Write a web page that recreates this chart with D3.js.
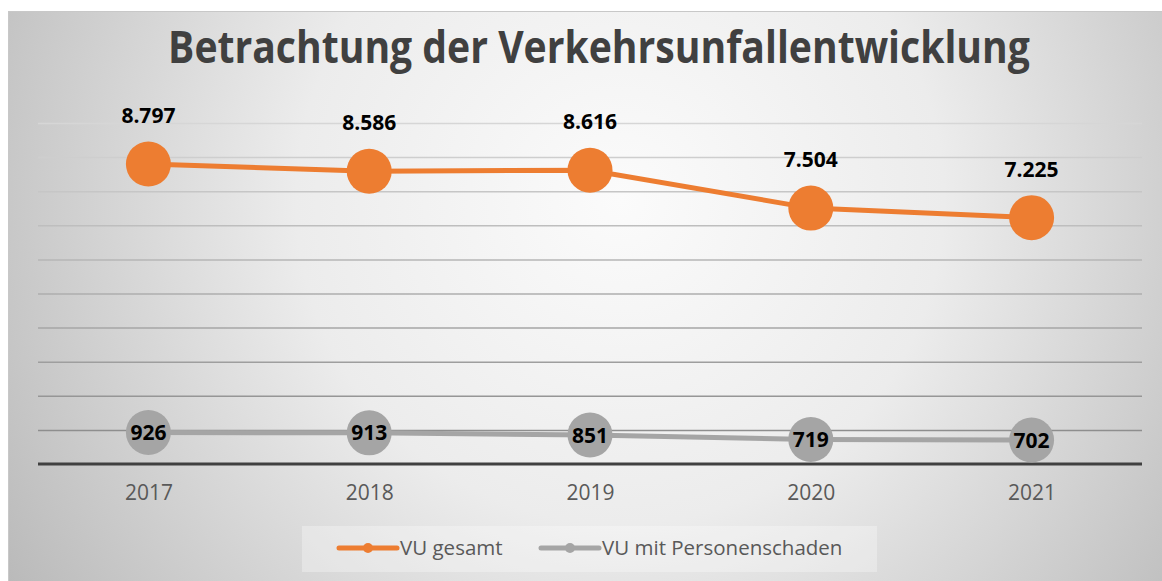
<!DOCTYPE html>
<html>
<head>
<meta charset="utf-8">
<script src="https://cdn.jsdelivr.net/npm/d3@7"></script>
<style>
  body { margin: 0; background: #fff; }
  svg { display: block; font-family: "Open Sans", sans-serif; }
</style>
</head>
<body>
<svg id="chart" width="1162" height="581"></svg>
<script>
// data
var years = ["2017", "2018", "2019", "2020", "2021"];
var gesamt = [8797, 8586, 8616, 7504, 7225];
var personen = [926, 913, 851, 719, 702];
var seriesNames = ["VU gesamt", "VU mit Personenschaden"];
var title = "Betrachtung der Verkehrsunfallentwicklung";

var orange = "#ed7d31";
var grey = "#a5a5a5";

var svg = d3.select("#chart");
var fmt = d3.format(",");
var deFmt = v => fmt(v).replace(/,/g, ".");

// background with radial shading
var defs = svg.append("defs");
var grad = defs.append("radialGradient")
  .attr("id", "bg")
  .attr("gradientUnits", "userSpaceOnUse")
  .attr("cx", 620).attr("cy", 200).attr("r", 720);
grad.append("stop").attr("offset", "0%").attr("stop-color", "#fbfbfb");
grad.append("stop").attr("offset", "45%").attr("stop-color", "#ececec");
grad.append("stop").attr("offset", "100%").attr("stop-color", "#bababa");

svg.append("rect")
  .attr("x", 8).attr("y", 11)
  .attr("width", 1154).attr("height", 570)
  .attr("fill", "url(#bg)");
svg.append("line")
  .attr("x1", 8).attr("x2", 1162).attr("y1", 11.5).attr("y2", 11.5)
  .attr("stroke", "#c8c8c8");
svg.append("line")
  .attr("x1", 8.5).attr("x2", 8.5).attr("y1", 11).attr("y2", 581)
  .attr("stroke", "#c8c8c8");

var x = d3.scalePoint().domain(years).range([38, 1142]).padding(0.5);
var y = d3.scaleLinear().domain([0, 10000]).range([464, 123]);

// gridlines, darker towards the bottom
var gridColor = d3.scaleLinear().domain([123, 430]).range(["#d6d6d6", "#8e8e8e"]);
var grid = svg.append("g")
  .attr("transform", "translate(38,0)")
  .call(d3.axisLeft(y).ticks(10).tickSize(-1104).tickFormat(""));
grid.select(".domain").remove();
grid.selectAll(".tick line")
  .attr("stroke", d => gridColor(y(d)))
  .attr("stroke-width", 1.5);
grid.selectAll(".tick").filter(d => d === 0).remove();

// x axis
var xAxis = svg.append("g")
  .attr("transform", "translate(0,464)")
  .call(d3.axisBottom(x).tickSize(0).tickPadding(21));
xAxis.select(".domain")
  .attr("d", "M38,0H1142")
  .attr("stroke", "#404040")
  .attr("stroke-width", 3);
xAxis.selectAll("text")
  .attr("font-size", 21)
  .attr("fill", "#595959")
  .style("font-family", "Open Sans");

function drawSeries(values, color) {
  var line = d3.line().x((d, i) => x(years[i])).y(d => y(d));
  svg.append("path")
    .datum(values)
    .attr("d", line)
    .attr("fill", "none")
    .attr("stroke", color)
    .attr("stroke-width", 5);
  svg.append("g").selectAll("circle")
    .data(values)
    .enter().append("circle")
      .attr("cx", (d, i) => x(years[i]))
      .attr("cy", d => y(d))
      .attr("r", 22.5)
      .attr("fill", color);
}

drawSeries(personen, grey);
drawSeries(gesamt, orange);

svg.append("g").selectAll("text")
  .data(gesamt)
  .enter().append("text")
    .attr("x", (d, i) => x(years[i]))
    .attr("y", d => y(d) - 41)
    .attr("text-anchor", "middle")
    .attr("font-size", 21)
    .attr("font-weight", "bold")
    .attr("fill", "#000")
    .text(d => deFmt(d));

svg.append("g").selectAll("text")
  .data(personen)
  .enter().append("text")
    .attr("x", (d, i) => x(years[i]))
    .attr("y", d => y(d))
    .attr("dy", "0.36em")
    .attr("text-anchor", "middle")
    .attr("font-size", 21)
    .attr("font-weight", "bold")
    .attr("fill", "#000")
    .text(d => deFmt(d));

// title, sized to the reference width, stretched a little in height
var t = svg.append("text")
  .attr("x", 0)
  .attr("y", 0)
  .attr("text-anchor", "middle")
  .attr("font-size", 46)
  .attr("font-weight", "bold")
  .attr("fill", "#404040")
  .text(title);
var tw = t.node().getComputedTextLength();
t.attr("font-size", 46 * 862 / tw)
  .attr("transform", "translate(599,63) scale(1,1.15)");

// legend
var legend = svg.append("g");
legend.append("rect")
  .attr("x", 302).attr("y", 526)
  .attr("width", 575).attr("height", 46)
  .attr("fill", "#ffffff").attr("fill-opacity", 0.3);

var legendItems = [
  { name: seriesNames[0], color: orange, x0: 339 },
  { name: seriesNames[1], color: grey, x0: 541 }
];
var li = legend.selectAll("g.item")
  .data(legendItems)
  .enter().append("g")
    .attr("class", "item")
    .attr("transform", d => `translate(${d.x0},548)`);
li.append("line")
  .attr("x1", 0).attr("x2", 58)
  .attr("stroke", d => d.color)
  .attr("stroke-width", 5)
  .attr("stroke-linecap", "round");
li.append("circle")
  .attr("cx", 29).attr("r", 5)
  .attr("fill", d => d.color);
li.append("text")
  .attr("x", 61)
  .attr("dy", "0.35em")
  .attr("font-size", 20.5)
  .attr("fill", "#595959")
  .text(d => d.name);
</script>
</body>
</html>
